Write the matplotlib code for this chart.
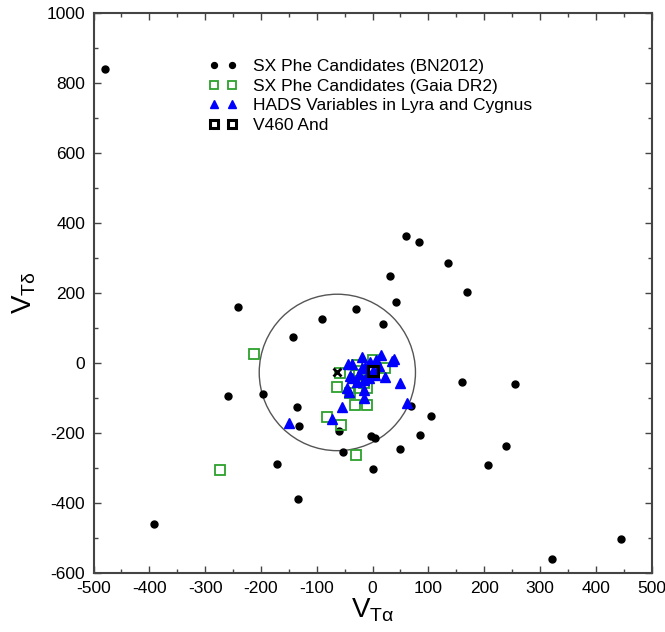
import numpy as np
import matplotlib
matplotlib.use("Agg")
import matplotlib.pyplot as plt
from matplotlib.patches import Ellipse
from matplotlib.ticker import MultipleLocator

plt.rcParams['font.family'] = ['Liberation Sans', 'DejaVu Sans']
plt.rcParams['mathtext.fontset'] = 'custom'
plt.rcParams['mathtext.rm'] = 'Liberation Sans'
plt.rcParams['mathtext.it'] = 'Liberation Sans:italic'
plt.rcParams['axes.unicode_minus'] = False

# SX Phe candidates from BN2012
bn_x = [-479, 60, 83, 135, 32, 169, 42, -29, -90, 19, -241, -143, -259, -197,
        -135, -131, -60, -3, 5, -53, 0, 50, 85, 105, 69, 160, 255, 239, 207,
        -172, -133, -392, 321, 446]
bn_y = [840, 364, 346, 286, 250, 202, 173, 155, 127, 112, 160, 75, -94, -88,
        -127, -181, -193, -208, -213, -254, -302, -246, -206, -152, -124, -55,
        -60, -238, -291, -289, -389, -459, -559, -502]

# SX Phe candidates from Gaia DR2
gaia_x = [-212, -273, -29, -82, -56, -32, -9, -63, -40, -58, -28, 0, 22, -24,
          -30, -24, -10, -15]
gaia_y = [27, -307, -263, -153, -178, -119, -119, -69, -86, -29, -6, 10, -14,
          -24, -34, -70, -72, -56]

# HADS variables in Lyra and Cygnus
hads_x = [-150, -72, -55, -16, -46, -43, -16, -40, -37, -44, -36, -18, -18,
          -13, -6, -15, 7, 16, 35, 38, 23, 49, 62, 0, -25, -8, 5, -28, -5, 12]
hads_y = [-171, -161, -125, -99, -72, -82, -77, -36, -44, -2, -4, 17, -15,
          -10, -42, -49, 9, 23, 6, 11, -41, -58, -115, -22, -30, -30, -35,
          -55, 2, -8]

# V460 And
v460_x = [0]
v460_y = [-22]

# velocity ellipse centre and extent
ell_cx, ell_cy = -63, -27
ell_w, ell_h = 280, 447

fig = plt.figure(figsize=(6.65, 6.32), dpi=100)
ax = fig.add_axes([93.5 / 665, 59 / 632, 558 / 665, 560 / 632])

ax.add_patch(Ellipse((ell_cx, ell_cy), ell_w, ell_h, fill=False,
                     edgecolor='#555555', linewidth=1.0, zorder=1))
ax.plot([ell_cx], [ell_cy], 'x', color='black', markersize=6,
        markeredgewidth=2, zorder=5)

ax.plot(bn_x, bn_y, 'o', color='black', markersize=5, linestyle='none',
        label='SX Phe Candidates (BN2012)', zorder=2)
ax.plot(gaia_x, gaia_y, 's', markerfacecolor='none', markeredgecolor='#2ca02c',
        markeredgewidth=1.3, markersize=7, linestyle='none',
        label='SX Phe Candidates (Gaia DR2)', zorder=3)
ax.plot(hads_x, hads_y, '^', color='blue', markersize=6.5, linestyle='none',
        label='HADS Variables in Lyra and Cygnus', zorder=4)
ax.plot(v460_x, v460_y, 's', markerfacecolor='none', markeredgecolor='black',
        markeredgewidth=2.2, markersize=7.5, linestyle='none',
        label='V460 And', zorder=6)

ax.set_xlim(-500, 500)
ax.set_ylim(-600, 1000)
ax.xaxis.set_major_locator(MultipleLocator(100))
ax.xaxis.set_minor_locator(MultipleLocator(50))
ax.yaxis.set_major_locator(MultipleLocator(200))
ax.yaxis.set_minor_locator(MultipleLocator(100))
ax.tick_params(which='both', direction='in', top=True, right=True,
               colors='#444444', labelcolor='black', labelsize=12.5, width=1)
ax.tick_params(which='major', length=5, pad=6)
ax.tick_params(which='minor', length=3)
for s in ax.spines.values():
    s.set_color('#444444')
    s.set_linewidth(1.5)

ax.set_xlabel(r'$\mathregular{V_{T\alpha}}$', fontsize=20, labelpad=0)
ax.set_ylabel(r'$\mathregular{V_{T\delta}}$', fontsize=20, labelpad=6)

ax.legend(loc='upper left', bbox_to_anchor=(0.195, 0.93), frameon=False,
          numpoints=2, fontsize=12.5, handlelength=1.6, handletextpad=0.9,
          labelspacing=0.25, borderaxespad=0, markerscale=0.85)

fig.savefig('out.png', dpi=100)
